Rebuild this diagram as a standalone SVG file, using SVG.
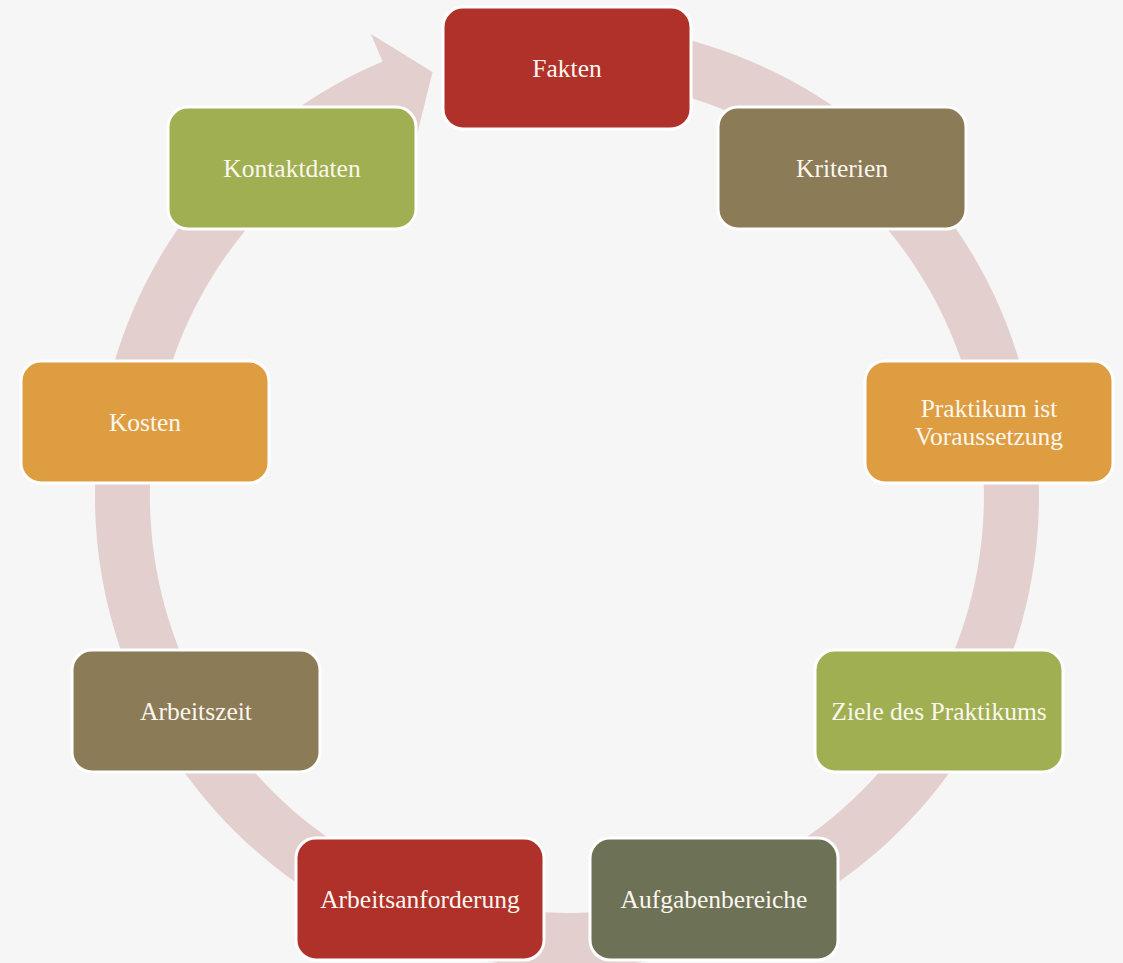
<svg xmlns="http://www.w3.org/2000/svg" width="1123" height="963" viewBox="0 0 1123 963">
<style>
.box{stroke:#ffffff;stroke-width:3}
.lbl{font-family:"Liberation Serif","DejaVu Serif",serif;font-size:25.5px;fill:#fbf7ef;text-anchor:middle;dominant-baseline:central}
</style>
<rect x="0" y="0" width="1123" height="963" fill="#f6f6f6"/>
<g id="connectors">
<path d="M567,24 A472,472 0 1 1 382.6,61.5 L370.9,33.9 L432.5,72 L415.8,139.8 L404.1,112.1 A417,417 0 1 0 567,79 Z" fill="#e4cfcf"/>
</g>
<g id="n1"><rect class="box" x="443" y="7" width="248" height="122" rx="20" fill="#b0312a"/><text class="lbl" x="567" y="68">Fakten</text></g>
<g id="n2"><rect class="box" x="718" y="107" width="248" height="122" rx="20" fill="#8b7b57"/><text class="lbl" x="842" y="168">Kriterien</text></g>
<g id="n3"><rect class="box" x="865" y="361" width="248" height="122" rx="20" fill="#df9d42"/><text class="lbl" x="989" y="408">Praktikum ist</text><text class="lbl" x="989" y="436">Voraussetzung</text></g>
<g id="n4"><rect class="box" x="815" y="650" width="248" height="122" rx="20" fill="#a0af51"/><text class="lbl" x="939" y="711">Ziele des Praktikums</text></g>
<g id="n5"><rect class="box" x="590" y="838" width="248" height="122" rx="20" fill="#6d7256"/><text class="lbl" x="714" y="899">Aufgabenbereiche</text></g>
<g id="n6"><rect class="box" x="296" y="838" width="248" height="122" rx="20" fill="#b0312a"/><text class="lbl" x="420" y="899">Arbeitsanforderung</text></g>
<g id="n7"><rect class="box" x="72" y="650" width="248" height="122" rx="20" fill="#8b7b57"/><text class="lbl" x="196" y="711">Arbeitszeit</text></g>
<g id="n8"><rect class="box" x="21" y="361" width="248" height="122" rx="20" fill="#df9d42"/><text class="lbl" x="145" y="422">Kosten</text></g>
<g id="n9"><rect class="box" x="168" y="107" width="248" height="122" rx="20" fill="#a0af51"/><text class="lbl" x="292" y="168">Kontaktdaten</text></g>
</svg>
